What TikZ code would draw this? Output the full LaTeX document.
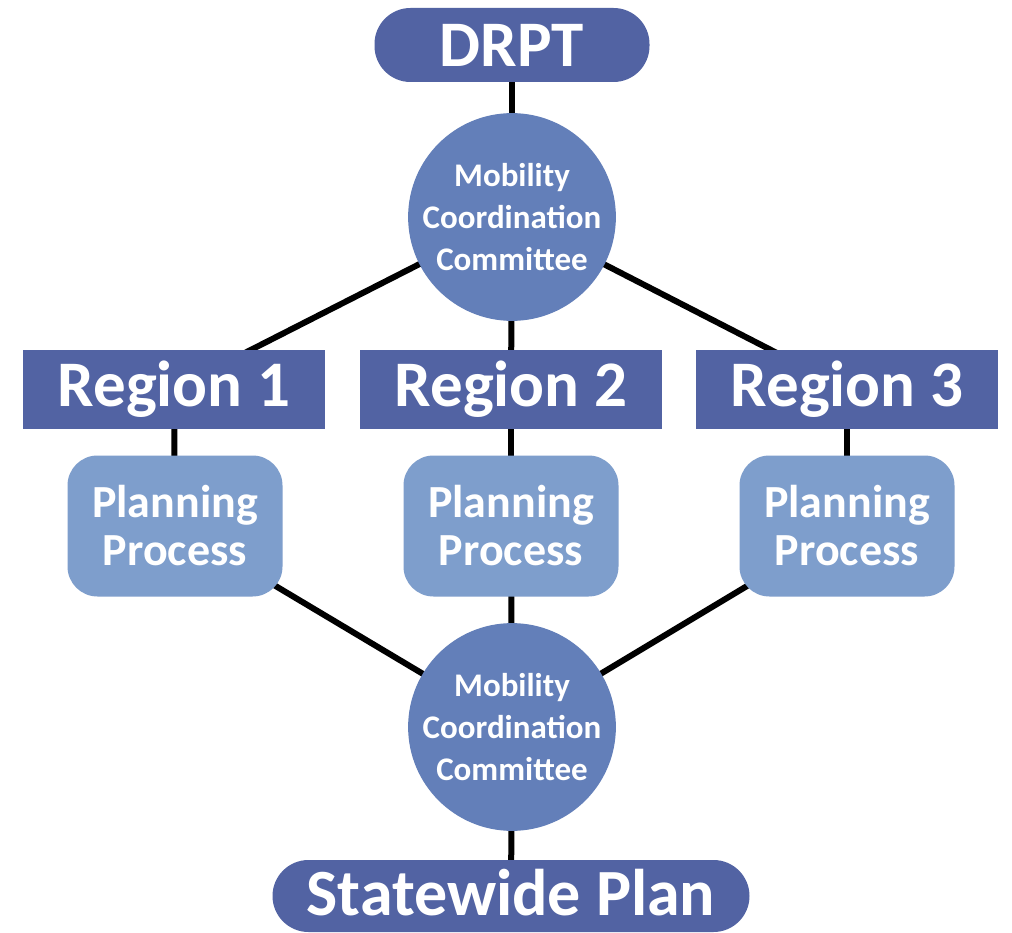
\documentclass[tikz,border=0pt]{standalone}
\usepackage{fontspec}
\setmainfont{Carlito}
\usetikzlibrary{backgrounds}
\definecolor{darkblue}{RGB}{82,99,163}
\definecolor{midblue}{RGB}{99,127,185}
\definecolor{lightblue}{RGB}{126,158,204}
\begin{document}
\begin{tikzpicture}[x=1pt,y=-1pt,
  txt/.style={text=white,font=\bfseries,align=center,inner sep=0pt},
  pill/.style={text=white,inner sep=0pt,fill=darkblue,rounded corners=36pt,minimum height=74pt,text depth=0pt},
  regionbox/.style={txt,fill=darkblue,minimum width=302pt,minimum height=79pt,font=\bfseries\fontsize{65}{70}\selectfont},
  planbox/.style={txt,fill=lightblue,rounded corners=30pt,minimum width=215pt,minimum height=141pt,font=\bfseries\fontsize{46}{48}\selectfont},
  mcc/.style={txt,fill=midblue,circle,minimum size=200pt,font=\bfseries\fontsize{33}{42}\selectfont},
  link/.style={line width=6pt,black}]
\useasboundingbox (0,0) rectangle (1012,933);
\node[pill,minimum width=275pt,text height=44pt,font=\bfseries\fontsize{65}{70}\selectfont] (drpt) at (512,45) {DRPT};
\node[mcc] (mcc1) at (512,217) {Mobility\\Coordination\\Committee};
\node[regionbox] (r1) at (174,389) {Region 1};
\node[regionbox] (r2) at (511,389) {Region 2};
\node[regionbox] (r3) at (847,389) {Region 3};
\node[planbox] (p1) at (175,526) {Planning\\Process};
\node[planbox] (p2) at (511,526) {Planning\\Process};
\node[planbox] (p3) at (847,526) {Planning\\Process};
\node[mcc] (mcc2) at (512,727) {Mobility\\Coordination\\Committee};
\node[pill,minimum width=477pt,minimum height=72pt,text height=46pt,text depth=8pt,font=\bfseries\fontsize{66}{70}\selectfont] (plan) at (511,896) {Statewide Plan};
\begin{pgfonlayer}{background}
\fill[white] (0,0) rectangle (1012,933);
\draw[link] (drpt.center) -- (mcc1.center);
\draw[link] (mcc1.center) -- (r1.center);
\draw[link] (mcc1.center) -- (r2.center);
\draw[link] (mcc1.center) -- (r3.center);
\draw[link] (r1.center) -- (p1.center);
\draw[link] (r2.center) -- (p2.center);
\draw[link] (r3.center) -- (p3.center);
\draw[link] (p1.center) -- (mcc2.center);
\draw[link] (p2.center) -- (mcc2.center);
\draw[link] (p3.center) -- (mcc2.center);
\draw[link] (mcc2.center) -- (plan.center);
\end{pgfonlayer}
\end{tikzpicture}
\end{document}
